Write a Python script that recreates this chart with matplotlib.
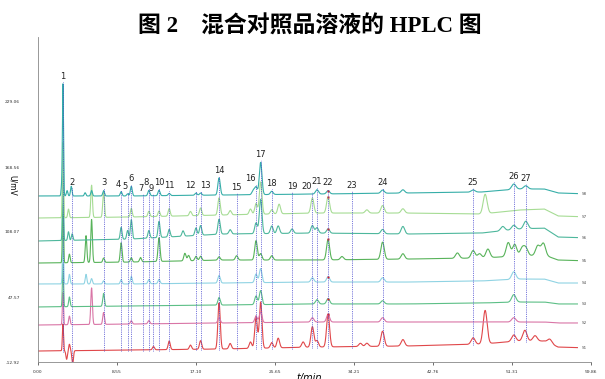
import numpy as np
import matplotlib
matplotlib.use("Agg")
import matplotlib.pyplot as plt

# Retention times (min) of the 27 labelled peaks
peak_no = [str(i) for i in range(1, 28)]
peak_t = [2.7, 3.68, 7.1, 8.98, 9.74, 10.07, 11.4, 12.0, 12.5, 13.1, 14.2, 17.1, 17.6,
          19.6, 21.5, 23.6, 24.1, 25.3, 27.5, 29.7, 30.2, 31.4, 34.0, 37.3, 47.1, 51.5, 52.8]
marked_peak = 31.4  # peak 22, red squares

# Baselines (mV) read at these times
knot_t = [0, 10, 20, 30, 40, 48, 52, 54.8, 56.3, 59.86]
base_s1 = [-2.7, -1.8, -0.8, 1.0, 2.0, 3.8, 6.6, 6.6, 1.0, 0.1]
base_s2 = [21.5, 22.4, 23.4, 24.3, 24.3, 24.3, 24.3, 24.3, 23.4, 23.4]
base_s3 = [38.3, 39.2, 40.1, 41.1, 41.1, 42.0, 42.9, 42.9, 41.1, 41.1]
base_s4 = [59.7, 59.7, 60.6, 61.5, 61.5, 62.5, 64.3, 64.3, 60.6, 60.6]
base_s5 = [79.2, 80.1, 82.0, 82.0, 82.9, 83.9, 85.7, 86.6, 82.0, 81.1]
base_s6 = [99.7, 101.5, 106.2, 107.1, 106.2, 107.1, 110.8, 111.8, 103.4, 102.5]
base_s7 = [121.1, 122.0, 123.9, 125.7, 125.7, 124.8, 128.5, 129.5, 123.0, 122.0]
base_s8 = [141.6, 141.6, 142.5, 143.4, 144.4, 145.3, 148.1, 148.1, 144.4, 143.4]

# Peaks of each run: (time min, height mV)
peaks_s1 = [(2.7, 25), (3.1, -8), (3.4, 6), (3.75, -13), (12.5, 3), (14.2, 8), (16.5, 4),
            (17.6, 8), (19.6, 43), (20.8, 5), (23.0, 6), (23.6, 30), (24.1, 43), (25.3, 5),
            (26.0, 9), (28.7, 5), (29.7, 19), (30.2, 6), (31.4, 30), (34.9, 3), (35.6, 3),
            (37.3, 14), (39.5, 6), (47.1, 6), (48.4, 31), (51.5, 6), (52.7, 10), (53.8, 5),
            (55.4, 4)]
peaks_s2 = [(2.7, 30), (3.4, 8), (5.8, 34), (7.1, 11), (10.1, 3), (12.0, 3), (19.6, 5),
            (23.6, 6), (24.1, 10), (29.7, 4), (31.4, 7), (37.3, 4), (51.5, 4)]
peaks_s3 = [(2.7, 40), (3.4, 9), (7.1, 12), (19.6, 7), (23.6, 8), (24.1, 13), (30.2, 4),
            (31.4, 5), (37.3, 3), (51.5, 7)]
peaks_s4 = [(2.7, 45), (3.4, 9), (5.2, 9), (5.8, 5), (7.1, 3), (9.0, 4), (10.1, 7), (12.0, 4),
            (13.1, 4), (19.6, 7), (23.6, 8), (24.1, 13), (29.7, 4), (31.4, 5), (37.3, 4),
            (51.5, 7)]
peaks_s5 = [(2.7, 55), (3.4, 8), (5.2, 25), (5.8, 40), (7.1, 4), (9.0, 18), (10.1, 4),
            (11.1, 4), (13.1, 22), (15.9, 7), (16.3, 5), (17.1, 4), (17.6, 4), (19.6, 3),
            (21.5, 4), (23.6, 18), (24.1, 6), (25.3, 4), (31.4, 19), (32.9, 3), (37.3, 16),
            (39.5, 5), (45.4, 5), (47.1, 7), (47.8, 4), (48.7, 8), (50.9, 13), (51.6, 11),
            (52.4, 7), (52.8, 7), (54.1, 9), (54.7, 11)]
peaks_s6 = [(2.7, 60), (3.3, 8), (3.7, 6), (9.0, 11), (9.7, 8), (10.1, 18), (12.0, 7),
            (13.1, 15), (14.2, 7), (15.7, 5), (17.1, 7), (17.6, 9), (19.6, 14), (20.8, 4),
            (23.6, 10), (24.1, 32), (25.3, 7), (26.0, 7), (27.5, 4), (29.7, 7), (30.2, 5),
            (31.4, 4), (37.3, 4), (39.5, 7), (50.3, 4), (51.5, 4), (52.8, 7)]
peaks_s7 = [(2.7, 70), (3.3, 8), (5.8, 30), (7.1, 24), (10.1, 8), (12.0, 5), (13.1, 5),
            (14.2, 7), (16.5, 4), (17.6, 7), (19.6, 16), (20.8, 4), (23.0, 5), (23.6, 10),
            (24.1, 30), (25.3, 4), (26.1, 9), (29.7, 14), (31.4, 15), (35.6, 3), (37.3, 7),
            (39.5, 4), (48.4, 18)]
peaks_s8 = [(2.55, 8), (2.7, 104), (3.15, 5), (3.6, 9), (5.1, 3), (5.8, 5), (7.1, 5),
            (9.0, 4), (9.7, 2), (10.1, 9), (12.0, 5), (13.1, 5), (14.2, 2), (17.1, 2),
            (17.6, 2), (19.6, 16), (23.3, 4), (23.6, 7), (24.1, 30), (25.3, 3), (30.2, 4),
            (31.4, 3), (37.3, 3), (39.5, 3), (47.1, 2), (51.5, 5), (52.8, 3)]

runs = ["S1", "S2", "S3", "S4", "S5", "S6", "S7", "S8"]
bases = [base_s1, base_s2, base_s3, base_s4, base_s5, base_s6, base_s7, base_s8]
peak_sets = [peaks_s1, peaks_s2, peaks_s3, peaks_s4, peaks_s5, peaks_s6, peaks_s7, peaks_s8]
colors = ["#e0474a", "#d975a6", "#5cbf86", "#8fd3e3", "#58b35a", "#4db79c", "#a6dc94", "#36aea8"]

xticks = [0.00, 8.55, 17.10, 25.65, 34.21, 42.76, 51.31, 59.86]
yticks = [-12.92, 47.57, 108.07, 168.56, 229.06]

# crowded labels sit to one side of their line
label_side = {"4": "right", "5": "right", "7": "right", "8": "right", "9": "right",
              "12": "right", "13": "left", "16": "right", "20": "right"}

t = np.arange(0, 58.4, 0.01)


def build(base, peaks):
    y = np.interp(t, knot_t, base)
    for pt, h in peaks:
        s = 0.06 if pt < 3 else 0.07 + 0.003 * pt
        y = y + h * np.exp(-0.5 * ((t - pt) / s) ** 2)
    return y


traces = [build(b, p) for b, p in zip(bases, peak_sets)]

fig = plt.figure(figsize=(6.05, 3.79), dpi=100)
ax = fig.add_axes([38 / 605, 1 - 362 / 379, 553 / 605, 325 / 379])

for name, y, c in zip(runs, traces, colors):
    ax.plot(t, y, color=c, lw=0.8)
    ax.text(t[-1] + 0.5, y[-1], name, fontsize=3, color="#555555", va="center")
    i = np.argmin(np.abs(t - marked_peak))
    ax.plot(t[i], y[i], "s", color="#e0201e", ms=2, mec="none")

# dotted peak markers and numbers
label_font = ["Liberation Sans Narrow", "DejaVu Sans"]
for lab, pt in zip(peak_no, peak_t):
    i = np.argmin(np.abs(t - pt))
    top = max(y[i] for y in traces) + 2
    bottom = min(traces[0][i], np.interp(pt, knot_t, base_s1)) - 1
    ax.plot([pt, pt], [bottom, top], color="#4b4bcf", lw=0.6, ls=(0, (1, 1.2)))
    ha = label_side.get(lab, "center")
    ax.text(pt, top + 1, lab, fontsize=6, ha=ha, va="bottom", color="#222222",
            family=label_font)

ax.set_xlim(0, 59.86)
ax.set_ylim(-12.92, 289.55)
ax.set_xticks(xticks)
ax.set_xticklabels([f"{v:.2f}" for v in xticks])
ax.set_yticks(yticks)
ax.set_yticklabels([f"{v:.2f}" for v in yticks])
ax.tick_params(axis="x", labelsize=3.2, length=2, width=0.5, pad=4, colors="#333333")
ax.tick_params(axis="y", labelsize=3.2, length=0, pad=13, colors="#333333")
ax.spines["top"].set_visible(False)
ax.spines["right"].set_visible(False)
for side in ["left", "bottom"]:
    ax.spines[side].set_color("#888888")
    ax.spines[side].set_linewidth(0.6)

fig.text(12 / 605, 1 - 185 / 379, "U/mV", rotation=270, fontsize=5.5, ha="center", va="center")
fig.text(309 / 605, 1 - 378 / 379, "t/min", fontsize=7, ha="center", va="center", style="italic")
fig.text(310 / 605, 1 - 27 / 379, "图 2　混合对照品溶液的 HPLC 图", fontsize=16.5,
         family=["Liberation Serif", "Noto Sans CJK SC"], weight="bold", ha="center", va="center")

fig.savefig("out.png", dpi=100)
